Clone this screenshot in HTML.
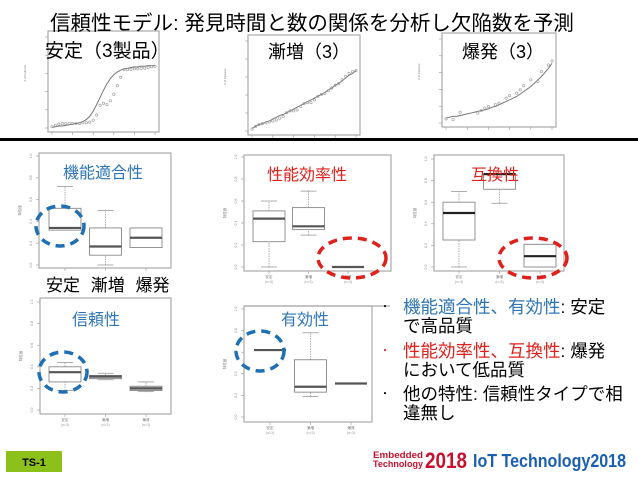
<!DOCTYPE html>
<html><head><meta charset="utf-8">
<style>
html,body{margin:0;padding:0;background:#fff;}
body{width:638px;height:479px;overflow:hidden;position:relative;font-family:"Liberation Sans","Noto Sans CJK JP",sans-serif;}
.t{position:absolute;white-space:nowrap;color:#000;}
.bl{color:#2e75b6}.rd{color:#e0201b}
</style></head>
<body>
<svg id="svg" width="638" height="479" style="position:absolute;left:0;top:0">
<rect x="0" y="138" width="638" height="3" fill="#000"/>
<g><rect x="6" y="451" width="56" height="21" fill="#8cc11c"/>
<text x="34" y="466" font-size="11" font-weight="bold" text-anchor="middle" font-family="Liberation Sans, sans-serif">TS-1</text></g>
<g font-family="Liberation Sans, sans-serif" font-weight="bold">
<text x="373" y="458" font-size="9" fill="#c8102e" textLength="50" lengthAdjust="spacingAndGlyphs">Embedded</text>
<text x="373" y="467" font-size="9" fill="#c8102e" textLength="50" lengthAdjust="spacingAndGlyphs">Technology</text>
<text x="425" y="468" font-size="22" fill="#c8102e" textLength="42" lengthAdjust="spacingAndGlyphs">2018</text>
<text x="473" y="467" font-size="18" fill="#1a5fb4" textLength="153" lengthAdjust="spacingAndGlyphs">IoT Technology2018</text>
</g>
</svg>
<div class="t" style="left:50px;top:6px;font-size:20.5px;letter-spacing:0px">信頼性モデル: 発見時間と数の関係を分析し欠陥数を予測</div>
<div class="t" style="left:45px;top:36px;font-size:19px">安定（3製品）</div>
<div class="t" style="left:268px;top:38px;font-size:18px">漸増（3）</div>
<div class="t" style="left:462px;top:38px;font-size:18px">爆発（3）</div>
<div class="t bl" style="left:63px;top:159px;font-size:16px">機能適合性</div>
<div class="t rd" style="left:267px;top:161px;font-size:16px">性能効率性</div>
<div class="t rd" style="left:471px;top:161px;font-size:16px">互換性</div>
<div class="t bl" style="left:72px;top:306px;font-size:16px">信頼性</div>
<div class="t bl" style="left:281px;top:306px;font-size:16px">有効性</div>
<div class="t" style="left:46px;top:271px;font-size:17px;word-spacing:6px">安定 漸増 爆発</div>
<div style="position:absolute;left:380px;top:298px;font-size:17.5px;line-height:19px;width:258px">
<div style="position:absolute;left:0;top:0"><span style="position:absolute;left:0;font-size:10px">・</span><div style="margin-left:23px;white-space:nowrap"><span class="bl">機能適合性、有効性</span>: 安定<br>で高品質</div></div>
<div style="position:absolute;left:0;top:44px"><span style="position:absolute;left:0;font-size:10px" class="rd">・</span><div style="margin-left:23px;white-space:nowrap"><span class="rd">性能効率性、互換性</span>: 爆発<br>において低品質</div></div>
<div style="position:absolute;left:0;top:87px"><span style="position:absolute;left:0;font-size:10px">・</span><div style="margin-left:23px;white-space:nowrap">他の特性: 信頼性タイプで相<br>違無し</div></div>
</div>
<script>
// ---- top growth curves data ----
const stableObs=[2,4,6,7,7,7,7,7,7,8,8,9,12,20,35,38,36,42,52,65,78,90,90,90,91,91,92,92,93,94,95];
const stableFit=[1,2,3,3,4,5,6,7,8,10,13,18,26,36,47,58,68,76,82,86,89,91,92,93,94,94,95,95,96,96,96];
const gradualObs=[2,5,7,8,9,10,11,12,14,16,20,22,22,23,27,30,31,31,34,38,40,41,44,47,50,52,56,60,63,65,66];
const gradualFit=[3,5,7,8,10,11,13,15,17,18,20,22,24,26,28,30,32,34,36,38,40,42,45,47,50,52,55,58,61,63,66];
const burstObs=[5,null,4,null,13,null,null,null,null,12,15,18,20,null,22,24,null,30,33,null,36,40,45,null,52,null,50,62,null,70,75];
const burstFit=[6,7,8,8,9,10,11,12,13,14,15,16,17,19,20,22,24,26,28,30,32,35,38,41,44,48,52,56,61,66,72];
const ticksY=["0.0","0.2","0.4","0.6","0.8","1.0"];
// ---- box plot data [whiskerLow, q1, median, q3, whiskerHigh] ----
const categories=["安定","漸増","爆発"];
const funcBoxes=[[0.32,0.32,0.34,0.52,0.72],[0.0,0.09,0.17,0.34,0.50],[0.16,0.16,0.25,0.34,0.34]];
const perfBoxes=[[0.0,0.23,0.44,0.51,0.60],[0.29,0.34,0.37,0.54,0.69],[0.0,0.0,0.0,0.0,0.0]];
const compBoxes=[[0.0,0.25,0.50,0.60,0.70],[0.59,0.72,0.86,0.86,0.86],[0.0,0.0,0.10,0.21,0.21]];
const relBoxes=[[0.18,0.26,0.35,0.40,0.44],[0.28,0.29,0.31,0.32,0.34],[0.17,0.18,0.20,0.22,0.26]];
const effBoxes=[[0.62,0.62,0.62,0.62,0.62],[0.19,0.23,0.28,0.53,0.78],[0.31,0.31,0.31,0.31,0.31]];

const NS="http://www.w3.org/2000/svg";
const svg=document.getElementById('svg');
function mk(tag,attrs,parent){const e=document.createElementNS(NS,tag);for(const k in attrs)e.setAttribute(k,attrs[k]);(parent||svg).appendChild(e);return e;}

function growth(name,fr,obs,fit,ymax){
  const g=mk('g',{});
  
  
  mk('rect',{x:fr.x0,y:fr.y0,width:fr.x1-fr.x0,height:fr.y1-fr.y0,fill:'none',stroke:'#aaa','stroke-width':1.2},g);
  const n=fit.length;
  const sx=i=>fr.x0+4+(fr.x1-fr.x0-8)*i/(n-1);
  const sy=v=>fr.y1-4-(fr.y1-fr.y0-36)*v/ymax;
  for(let k=0;k<6;k++){const yy=fr.y1-4-(fr.y1-fr.y0-10)*k/5;mk('line',{x1:fr.x0-3,x2:fr.x0,y1:yy,y2:yy,stroke:'#999','stroke-width':0.6},g);
    const xx=fr.x0+4+(fr.x1-fr.x0-8)*k/5;mk('line',{x1:xx,x2:xx,y1:fr.y1,y2:fr.y1+3,stroke:'#999','stroke-width':0.6},g);}
  mk('path',{d:fit.map((v,i)=>(i?'L':'M')+sx(i)+','+sy(v)).join(''),fill:'none',stroke:'#777','stroke-width':1},g);
  obs.forEach((v,i)=>{if(v===null)return;const c=mk('circle',{cx:sx(i),cy:sy(v),r:1.2,fill:'none',stroke:'#999','stroke-width':0.6},g);
    
    });
  mk('text',{x:fr.x0-22,y:(fr.y0+fr.y1)/2,'font-size':3,fill:'#777',transform:`rotate(-90 ${fr.x0-22} ${(fr.y0+fr.y1)/2})`},g).textContent='# of Failures';
}
growth('stable-growth-chart',{x0:48,x1:159,y0:31,y1:132},stableObs,stableFit,100);
growth('gradual-growth-chart',{x0:248,x1:360,y0:35,y1:135},gradualObs,gradualFit,70);
growth('burst-growth-chart',{x0:442,x1:556,y0:33,y1:127},burstObs,burstFit,70);

function boxplot(name,fr,zeroY,oneY,c0,c2,boxes,opts){
  const g=mk('g',{});
  
  
  const sy=v=>zeroY+(oneY-zeroY)*v;
  const sx=i=>c0+(c2-c0)*i/(boxes.length-1);
  if(opts.topExt) mk('line',{x1:fr.x0,x2:opts.topExt,y1:fr.y0,y2:fr.y0,stroke:'#aaa','stroke-width':1.2},g);
  mk('rect',{x:fr.x0,y:fr.y0,width:fr.x1-fr.x0,height:fr.y1-fr.y0,fill:'none',stroke:'#aaa','stroke-width':1.2},g);
  ticksY.forEach((t,k)=>{const yy=sy(k/5);mk('line',{x1:fr.x0-3,x2:fr.x0,y1:yy,y2:yy,stroke:'#999','stroke-width':0.6},g);
    const tx=mk('text',{x:fr.x0-7,y:yy,'font-size':3.5,fill:'#888','text-anchor':'middle',transform:`rotate(-90 ${fr.x0-7} ${yy})`},g);tx.textContent=t;});
  boxes.forEach((b,i)=>{
    const cx=sx(i),hw=16;
    const bg=mk('g',{},g);
    
    
    mk('line',{x1:cx,x2:cx,y1:sy(b[0]),y2:sy(b[1]),stroke:'#999','stroke-width':0.8,'stroke-dasharray':'1.5 1'},bg);
    mk('line',{x1:cx,x2:cx,y1:sy(b[3]),y2:sy(b[4]),stroke:'#999','stroke-width':0.8,'stroke-dasharray':'1.5 1'},bg);
    mk('line',{x1:cx-8,x2:cx+8,y1:sy(b[0]),y2:sy(b[0]),stroke:'#999','stroke-width':0.8},bg);
    mk('line',{x1:cx-8,x2:cx+8,y1:sy(b[4]),y2:sy(b[4]),stroke:'#999','stroke-width':0.8},bg);
    mk('rect',{x:cx-hw,y:sy(b[3]),width:hw*2,height:Math.max(0,sy(b[1])-sy(b[3])),fill:(opts.gray&&opts.gray.includes(i))?'#d4d4d4':'#fff',stroke:'#888','stroke-width':0.9},bg);
    mk('line',{x1:cx-hw,x2:cx+hw,y1:sy(b[2]),y2:sy(b[2]),stroke:opts.med||'#555','stroke-width':2.2},bg);
    if(opts.xlab){mk('text',{x:cx,y:fr.y1+7,'font-size':3.5,fill:'#777','text-anchor':'middle'},g).textContent=categories[i];
      mk('text',{x:cx,y:fr.y1+12,'font-size':3.5,fill:'#999','text-anchor':'middle'},g).textContent='(n=3)';}
    mk('line',{x1:cx,x2:cx,y1:fr.y1,y2:fr.y1+3,stroke:'#999','stroke-width':0.6},g);
  });
  mk('text',{x:fr.x0-18,y:(fr.y0+fr.y1)/2,'font-size':3.5,fill:'#777','text-anchor':'middle',transform:`rotate(-90 ${fr.x0-18} ${(fr.y0+fr.y1)/2})`},g).textContent='特性値';
  if(opts.ell){const e=mk('ellipse',{cx:opts.ell[0],cy:opts.ell[1],rx:opts.ell[2],ry:opts.ell[3],fill:'none',stroke:opts.ell[4],'stroke-width':3.5,'stroke-dasharray':'9 6'},svg);
    
    }
}
boxplot('functional-suitability-boxplot',{x0:39,x1:171,y0:153,y1:268},265,156,65,146,funcBoxes,{ell:[60,226,24,20,'#1f6fb5']});
boxplot('performance-boxplot',{x0:244,x1:391,y0:155,y1:271},267,157,269,348,perfBoxes,{xlab:1,ell:[352,258,34,20,'#e0201b']});
boxplot('compatibility-boxplot',{x0:434,x1:564,y0:155,y1:271},267,159,459,540,compBoxes,{xlab:1,med:'#222',ell:[533,258,34,20,'#e0201b']});
boxplot('reliability-boxplot',{x0:40,x1:171,y0:298,y1:414},410,302,65,146,relBoxes,{xlab:1,gray:[1,2],ell:[63,372,24,20,'#1f6fb5']});
boxplot('effectiveness-boxplot',{x0:244,x1:372,y0:306,y1:422},417,309,270,351,effBoxes,{xlab:1,topExt:390,ell:[260,351,24,20,'#1f6fb5']});
</script>
</body></html>
